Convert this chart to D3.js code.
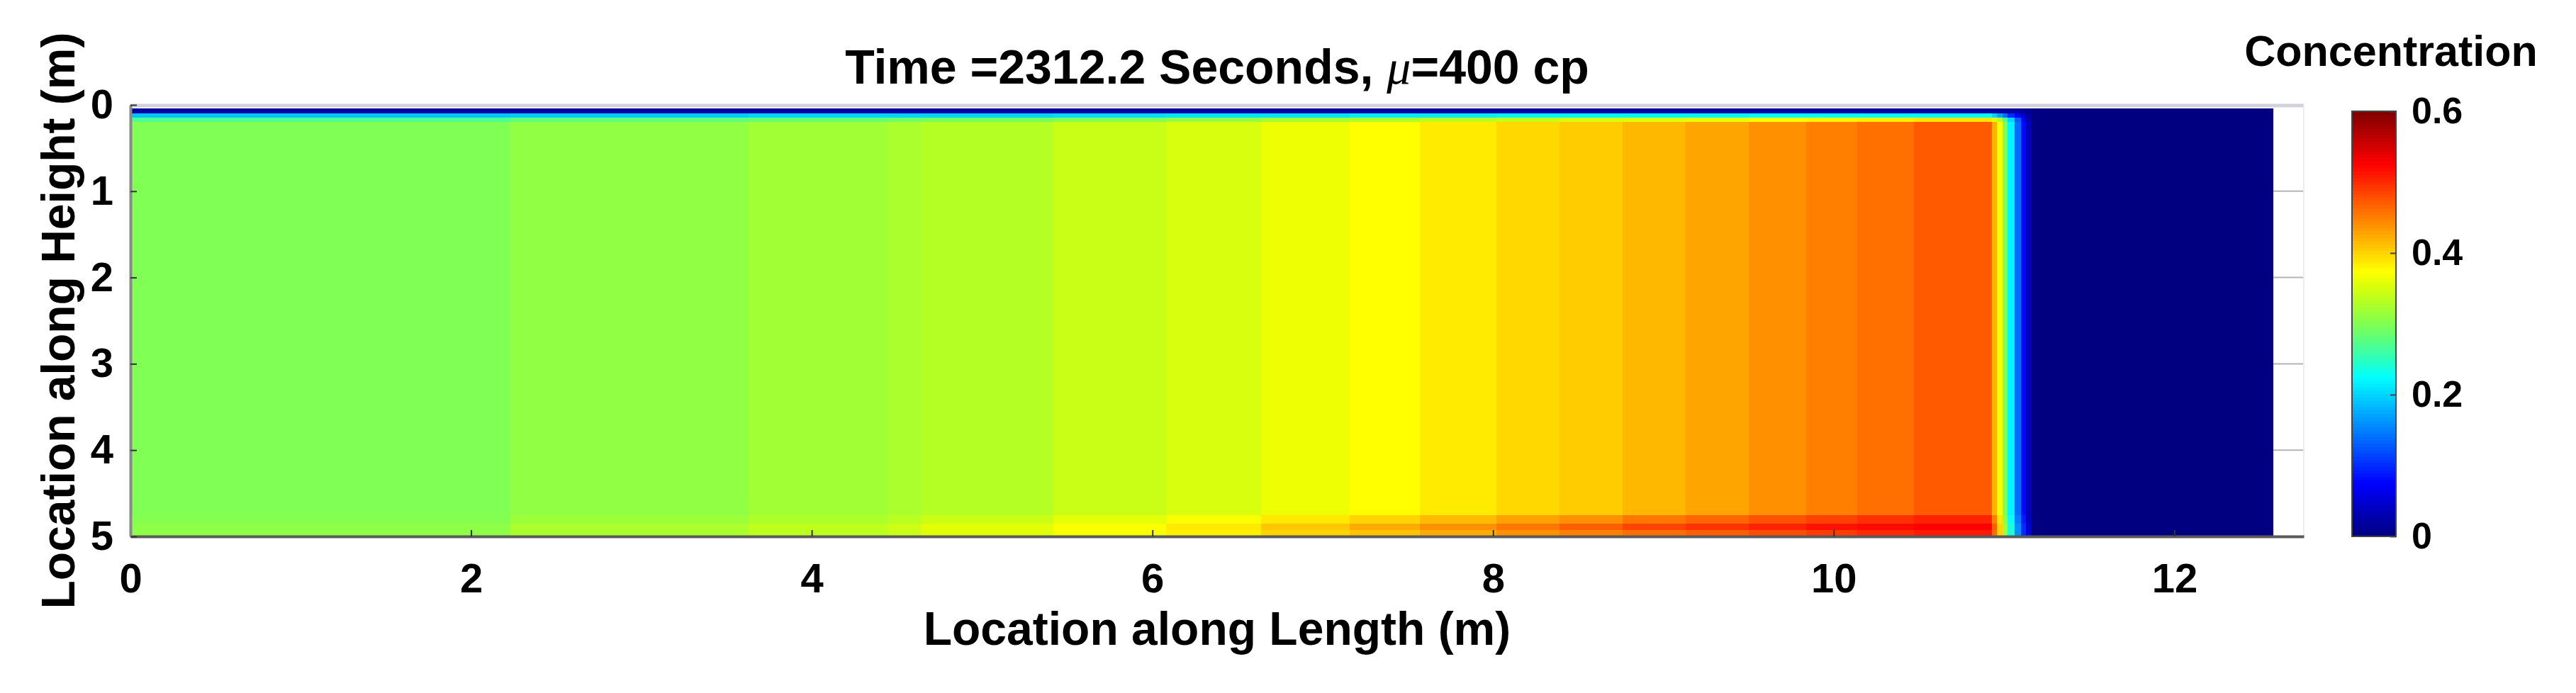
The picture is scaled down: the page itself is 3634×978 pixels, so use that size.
<!DOCTYPE html>
<html><head><meta charset="utf-8">
<script src="https://cdn.jsdelivr.net/npm/d3@7"></script>
<style>
html,body{margin:0;padding:0;background:#fff;}
svg{display:block;}
text{font-family:"Liberation Sans",Arial,Helvetica,sans-serif;font-weight:bold;fill:#000;}
</style>
</head><body><div id="chart"></div>
<script>
// ---------- data ----------
// column boundaries along length (m)
const xEdges = [0, 2.23, 3.63, 4.45, 4.64, 5.42, 6.08, 6.64, 7.16, 7.57, 8.02, 8.39, 8.76, 9.13, 9.50, 9.84, 10.14, 10.47, 10.93, 10.96, 10.99, 11.02, 11.06, 11.10, 11.13, 11.16, 12.58];
// row boundaries along height (m)
const yEdges = [0.04, 0.10, 0.15, 0.20, 4.75, 4.85, 4.93, 5.0];
// concentration per row band, one value per column
const rowTop1   = [0.02,0.02,0.02,0.02,0.02,0.02,0.02,0.02,0.02,0.02,0.02,0.02,0.02,0.02,0.02,0.02,0.02,0.02,0.02,0.02,0.02,0.02,0.02,0.01,0.01,0];
const rowTop2   = [0.19,0.195,0.20,0.20,0.20,0.205,0.21,0.21,0.215,0.215,0.22,0.22,0.22,0.22,0.225,0.225,0.225,0.225,0.20,0.17,0.14,0.10,0.07,0.04,0.02,0];
const rowTop3   = [0.27,0.28,0.285,0.29,0.295,0.30,0.31,0.32,0.325,0.335,0.34,0.35,0.355,0.36,0.37,0.38,0.385,0.39,0.36,0.33,0.27,0.20,0.13,0.07,0.03,0];
const rowCore   = [0.300,0.310,0.319,0.325,0.331,0.343,0.352,0.365,0.375,0.387,0.398,0.405,0.417,0.428,0.440,0.450,0.459,0.472,0.42,0.37,0.30,0.22,0.14,0.08,0.035,0];
const rowBot2   = [0.303,0.316,0.327,0.334,0.344,0.36,0.372,0.388,0.40,0.415,0.43,0.44,0.455,0.465,0.477,0.487,0.497,0.505,0.45,0.39,0.31,0.23,0.15,0.09,0.04,0];
const rowBot1   = [0.308,0.325,0.337,0.345,0.358,0.374,0.388,0.408,0.425,0.44,0.455,0.47,0.485,0.495,0.505,0.515,0.52,0.525,0.47,0.40,0.32,0.24,0.16,0.10,0.05,0];
const rowBot0   = [0.308,0.324,0.335,0.343,0.356,0.37,0.384,0.40,0.41,0.425,0.44,0.45,0.46,0.47,0.48,0.49,0.50,0.51,0.46,0.40,0.32,0.24,0.16,0.10,0.05,0];
const rows = [rowTop1, rowTop2, rowTop3, rowCore, rowBot2, rowBot1, rowBot0];

const xTicks = [0, 2, 4, 6, 8, 10, 12];
const yTicks = [0, 1, 2, 3, 4, 5];
const cTicks = [0, 0.2, 0.4, 0.6];
const xDomain = [0, 12.76];
const yDomain = [0, 5];
const cDomain = [0, 0.6];

// ---------- jet colormap ----------
function jet(v) {
  let t = (v - cDomain[0]) / (cDomain[1] - cDomain[0]);
  t = Math.max(0, Math.min(1, t));
  const cl = a => Math.max(0, Math.min(1, a));
  const r = cl(Math.min(4 * t - 1.5, -4 * t + 4.5));
  const g = cl(Math.min(4 * t - 0.5, -4 * t + 3.5));
  let b = cl(Math.min(4 * t + 0.5, -4 * t + 2.5));
  if (t > 0.375) b = Math.pow(b, 1.6);
  return d3.rgb(r * 255, g * 255, b * 255).toString();
}

// ---------- layout ----------
const W = 3634, H = 978;
const svg = d3.select("#chart").append("svg").attr("width", W).attr("height", H);
svg.append("rect").attr("width", W).attr("height", H).attr("fill", "#fff");

const x = d3.scaleLinear().domain(xDomain).range([184, 3250]);
const y = d3.scaleLinear().domain(yDomain).range([148, 757]);

// right-side ticks (under data)
svg.append("g").selectAll("line").data(yTicks).join("line")
  .attr("x1", x(xDomain[1]) - 48).attr("x2", x(xDomain[1]))
  .attr("y1", d => y(d)).attr("y2", d => y(d))
  .attr("stroke", "#b4b4b4").attr("stroke-width", 2);

// heat map cells
const cells = [];
rows.forEach((row, j) => {
  row.forEach((v, i) => {
    cells.push({x0: xEdges[i], x1: xEdges[i + 1], y0: yEdges[j], y1: yEdges[j + 1], v});
  });
});
svg.append("g").attr("shape-rendering", "crispEdges").selectAll("rect").data(cells).join("rect")
  .attr("x", d => x(d.x0))
  .attr("y", d => y(d.y0))
  .attr("width", d => x(d.x1) - x(d.x0) + 0.5)
  .attr("height", d => y(d.y1) - y(d.y0) + 0.5)
  .attr("fill", d => jet(d.v));

// box
const bx0 = x(xDomain[0]), bx1 = x(xDomain[1]), by0 = y(yDomain[0]), by1 = y(yDomain[1]);
svg.append("line").attr("x1", bx0).attr("x2", bx1).attr("y1", by0 + 1).attr("y2", by0 + 1).attr("stroke", "#d2d2de").attr("stroke-width", 5);
svg.append("line").attr("x1", bx1).attr("x2", bx1).attr("y1", by0).attr("y2", by1).attr("stroke", "#ececec").attr("stroke-width", 2);

// axes
const xAxis = d3.axisBottom(x).tickValues(xTicks).tickSizeInner(-9).tickSizeOuter(0).tickPadding(38).tickFormat(d3.format("d"));
const gx = svg.append("g").attr("transform", `translate(0,${by1})`).call(xAxis);
gx.select(".domain").attr("stroke", "#5a5a5a").attr("stroke-width", 4);
gx.selectAll(".tick line").attr("stroke", "#333").attr("stroke-width", 2);
gx.selectAll(".tick text").attr("font-size", 58).attr("font-family", null).attr("fill", "#111");

const yAxis = d3.axisLeft(y).tickValues(yTicks).tickSizeInner(-9).tickSizeOuter(0).tickPadding(24).tickFormat(d3.format("d"));
const gy = svg.append("g").attr("transform", `translate(${bx0},0)`).call(yAxis);
gy.select(".domain").attr("stroke", "#8a8a8a").attr("stroke-width", 4);
gy.selectAll(".tick line").attr("stroke", "#333").attr("stroke-width", 2);
gy.selectAll(".tick text").attr("font-size", 58).attr("font-family", null).attr("fill", "#111");

// title
const title = svg.append("text").attr("x", (bx0 + bx1) / 2).attr("y", 118)
  .attr("text-anchor", "middle").attr("font-size", 68);
title.append("tspan").text("Time =2312.2 Seconds, ");
title.append("tspan").text("\u03BC").attr("font-style", "italic").attr("font-weight", "normal")
  .style("font-family", "'Liberation Serif','DejaVu Serif',serif");
title.append("tspan").text("=400 cp");

// axis labels
svg.append("text").attr("x", (bx0 + bx1) / 2).attr("y", 910).attr("text-anchor", "middle")
  .attr("font-size", 66).text("Location along Length (m)");
svg.append("text").attr("transform", `translate(105,${(by0 + by1) / 2}) rotate(-90)`).attr("text-anchor", "middle")
  .attr("font-size", 66).text("Location along Height (m)");

// colorbar
const cbX = 3318, cbW = 62;
const c = d3.scaleLinear().domain(cDomain).range([757, 157]);
const nLev = 128;
const step = (cDomain[1] - cDomain[0]) / nLev;
const levels = d3.range(nLev).map(i => cDomain[0] + (i + 0.5) * step);
svg.append("g").attr("shape-rendering", "crispEdges").selectAll("rect").data(levels).join("rect")
  .attr("x", cbX).attr("width", cbW)
  .attr("y", d => c(d + step / 2))
  .attr("height", d => c(d - step / 2) - c(d + step / 2) + 0.6)
  .attr("fill", d => jet(d));
svg.append("rect").attr("x", cbX).attr("y", c(cDomain[1])).attr("width", cbW).attr("height", c(cDomain[0]) - c(cDomain[1]))
  .attr("fill", "none").attr("stroke", "#444").attr("stroke-width", 2);
const cAxis = d3.axisRight(c).tickValues(cTicks).tickSizeInner(-8).tickSizeOuter(0).tickPadding(22)
  .tickFormat(d => d === 0 ? "0" : d3.format(".1f")(d));
const gc = svg.append("g").attr("transform", `translate(${cbX + cbW},0)`).call(cAxis);
gc.select(".domain").remove();
gc.selectAll(".tick line").attr("stroke", "#444").attr("stroke-width", 2);
gc.selectAll(".tick text").attr("font-size", 52).attr("font-family", null).attr("fill", "#111");
svg.append("text").attr("x", 3373).attr("y", 93).attr("text-anchor", "middle").attr("font-size", 61).text("Concentration");
</script>
</body></html>
